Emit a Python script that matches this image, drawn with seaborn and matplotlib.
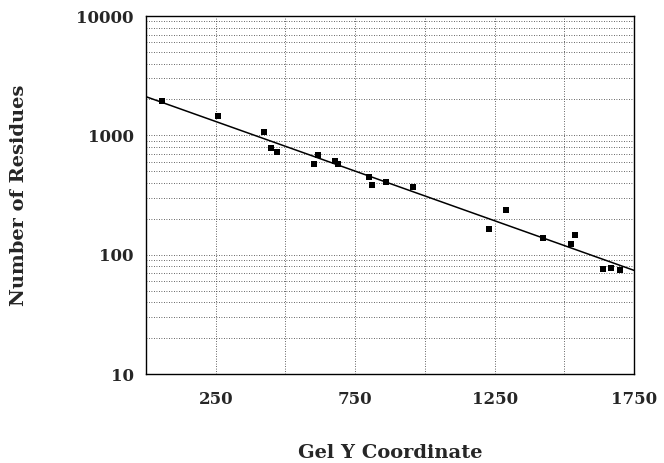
import numpy as np
import pandas as pd
import matplotlib
matplotlib.use("Agg")
import matplotlib.pyplot as plt
from matplotlib.ticker import FixedLocator, LogLocator, NullFormatter
import seaborn as sns

gel_y = [57, 259, 424, 449, 471, 604, 618, 679, 690, 798, 812, 859, 956,
         1229, 1290, 1423, 1524, 1538, 1639, 1668, 1700]
residues = [1950, 1440, 1060, 780, 720, 570, 680, 615, 580, 452, 387, 410, 372,
            165, 239, 139, 124, 145, 76, 78, 75]

x_ticks = [250, 750, 1250, 1750]
x_grid = [500, 1000, 1500]
y_ticks = [10, 100, 1000, 10000]

df = pd.DataFrame({"gel_y": gel_y, "residues": residues})

# log-linear fit, drawn across the whole x range
slope, icpt = np.polyfit(df["gel_y"], np.log10(df["residues"]), 1)
fit = pd.DataFrame({"gel_y": [0, 1750]})
fit["residues"] = 10 ** (icpt + slope * fit["gel_y"])

sns.set_style("white")
plt.rcParams["font.family"] = ["DejaVu Serif"]

fig = plt.figure(figsize=(6.64, 4.63), dpi=100)
ax = fig.add_axes([0.2199, 0.1922, 0.7349, 0.7732])

sns.lineplot(data=fit, x="gel_y", y="residues", ax=ax, color="black", lw=1.1)
sns.scatterplot(data=df, x="gel_y", y="residues", ax=ax, color="black",
                marker="s", s=14, linewidth=0)

ax.set_yscale("log")
ax.set_xlim(0, 1750)
ax.set_ylim(10, 10000)

ax.xaxis.set_major_locator(FixedLocator(x_ticks))
ax.xaxis.set_minor_locator(FixedLocator(x_grid))
ax.yaxis.set_major_locator(FixedLocator(y_ticks))
ax.yaxis.set_minor_locator(LogLocator(base=10, subs=np.arange(2, 10)))
ax.yaxis.set_minor_formatter(NullFormatter())
ax.set_yticklabels([str(v) for v in y_ticks])

ax.grid(True, which="both", color="0.2", linestyle=(0, (1, 2)), linewidth=0.6)
ax.tick_params(which="both", length=0)
ax.tick_params(axis="x", pad=12, labelsize=12)
ax.tick_params(axis="y", pad=9, labelsize=12)
for lab in ax.get_xticklabels() + ax.get_yticklabels():
    lab.set_fontweight("bold")

for sp in ax.spines.values():
    sp.set_color("black")
    sp.set_linewidth(1.0)

ax.set_xlabel("Gel Y Coordinate", fontsize=14, fontweight="bold")
ax.set_ylabel("Number of Residues", fontsize=14, fontweight="bold")
ax.xaxis.set_label_coords(0.5, -0.196)
ax.yaxis.set_label_coords(-0.242, 0.5)

fig.savefig("out.png", dpi=100)
